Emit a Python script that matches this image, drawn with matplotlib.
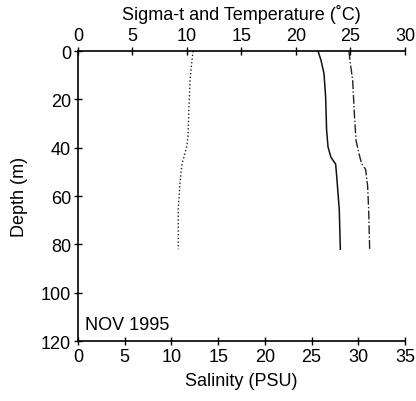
import matplotlib
matplotlib.use('Agg')
import matplotlib.pyplot as plt

plt.rcParams['font.family'] = ['Liberation Sans', 'DejaVu Sans']

# profiles, Nov 1995
temp_depth = [0, 2.5, 12, 26, 35.5, 39.7, 43.9, 46.6, 54.3, 65.4, 82]
temp = [10.55, 10.49, 10.28, 10.16, 10.09, 9.97, 9.72, 9.54, 9.36, 9.2, 9.2]

sig_depth = [0, 0.4, 3.9, 9.4, 19, 32.8, 39.7, 43.9, 46.8, 51.6, 65.4, 82]
sigma_t = [22.0, 22.05, 22.3, 22.57, 22.72, 22.81, 22.94, 23.2, 23.64, 23.73, 23.97, 24.07]

sal_depth = [0, 3.9, 12.1, 25.9, 37, 42.5, 46.6, 49, 55.7, 65.4, 82]
salinity = [29.0, 29.11, 29.4, 29.58, 29.76, 30.08, 30.36, 30.79, 31.0, 31.11, 31.22]

sal_ticks = [0, 5, 10, 15, 20, 25, 30, 35]
top_ticks = [0, 5, 10, 15, 20, 25, 30]
depth_ticks = [0, 20, 40, 60, 80, 100, 120]

fs = 13

fig = plt.figure(figsize=(4.16, 4.02), dpi=100)
ax = fig.add_axes([0.1875, 0.149, 0.786, 0.7216])
ax2 = ax.twiny()

ax.plot(salinity, sal_depth, color='#222222', lw=1.0, ls='-.')
ax2.plot(temp, temp_depth, color='#222222', lw=1.0, ls=':')
ax2.plot(sigma_t, sig_depth, color='#111111', lw=1.1, ls='-')

ax.set_xlim(0, 35)
ax2.set_xlim(0, 30)
ax.set_ylim(120, 0)
ax.set_xticks(sal_ticks)
ax2.set_xticks(top_ticks)
ax.set_yticks(depth_ticks)

for a in (ax, ax2):
    a.spines['right'].set_visible(False)
    for s in a.spines.values():
        s.set_linewidth(1.2)
    a.tick_params(direction='inout', length=6, width=1, labelsize=fs, pad=2)
ax2.spines['bottom'].set_visible(False)
ax2.spines['left'].set_visible(False)
ax.spines['top'].set_visible(False)

ax.set_xlabel('Salinity (PSU)', fontsize=fs, labelpad=5)
ax.set_ylabel('Depth (m)', fontsize=fs, labelpad=9)
ax2.set_xlabel('Sigma-t and Temperature (˚C)', fontsize=fs, labelpad=6)

ax.text(0.8, 115, 'NOV 1995', fontsize=fs)

fig.savefig('out.png', dpi=100)
